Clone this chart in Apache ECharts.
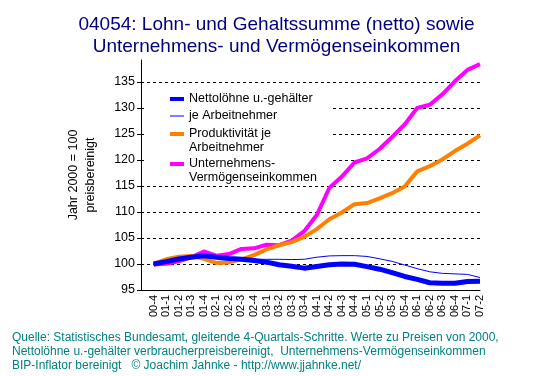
<!DOCTYPE html>
<html lang="de">
<head>
<meta charset="utf-8">
<title>04054</title>
<script src="https://cdn.jsdelivr.net/npm/echarts@6/dist/echarts.min.js"></script>
<style>
  html, body { margin: 0; padding: 0; background: #fff; }
  #chart { width: 553px; height: 376px; }
</style>
</head>
<body>
<div id="chart"></div>
<script>
// Quartale 00-4 .. 07-2
var quarters = ['00-4', '01-1', '01-2', '01-3', '01-4', '02-1', '02-2', '02-3', '02-4',
    '03-1', '03-2', '03-3', '03-4', '04-1', '04-2', '04-3', '04-4', '05-1', '05-2',
    '05-3', '05-4', '06-1', '06-2', '06-3', '06-4', '07-1', '07-2'];

var nettoSumme = [100, 100.45, 100.95, 101.3, 101.6, 101.3, 101.05, 100.9, 100.65, 100.35,
    99.85, 99.55, 99.2, 99.5, 99.85, 100.0, 99.95, 99.5, 99.0, 98.35, 97.6, 97.05, 96.4,
    96.3, 96.3, 96.65, 96.7];
var nettoJeAN = [100, 100.5, 100.95, 101.3, 101.6, 101.3, 101.1, 101.0, 100.9, 100.9,
    100.9, 100.85, 100.9, 101.3, 101.55, 101.6, 101.6, 101.45, 101.0, 100.5, 99.8, 99.1,
    98.5, 98.2, 98.1, 98.0, 97.4];
var produktivitaet = [100, 100.9, 101.4, 101.55, 101.0, 100.2, 100.3, 100.9, 101.7, 102.8,
    103.6, 104.2, 105.2, 106.7, 108.6, 109.9, 111.5, 111.7, 112.6, 113.6, 114.9, 117.8,
    118.8, 120.1, 121.7, 123.1, 124.7];
var unternehmen = [99.9, 100.05, 100.5, 101.3, 102.4, 101.6, 101.9, 102.9, 103.0, 103.7,
    103.6, 104.5, 106.3, 109.4, 114.6, 116.8, 119.5, 120.3, 122.1, 124.4, 126.8, 130.0,
    130.6, 132.6, 135.1, 137.3, 138.4];

var yTicks = [95, 100, 105, 110, 115, 120, 125, 130, 135];

var font = '"Liberation Sans", Arial, sans-serif';

// leere Kategorie vorn, damit die erste Linie etwas vom Achsenkreuz abrückt
var xData = [''].concat(quarters);
function pad(arr) { return ['-'].concat(arr); }

var NAME_SUM = 'Nettolöhne u.-gehälter';
var NAME_AN = 'je Arbeitnehmer';
var NAME_PROD = 'Produktivität je\nArbeitnehmer';
var NAME_UV = 'Unternehmens-\nVermögenseinkommen';

var thickIcon = 'path://M0,0H14V4H0Z';
var thinIcon = 'path://M0,0H14V1H0Z';

// ein Legendenblock pro Eintrag, damit das Symbol an der ersten Textzeile sitzt
function legendEntry(name, icon, top, twoLines) {
    return {
        orient: 'vertical',
        left: 170,
        top: top,
        padding: 0,
        itemWidth: 14,
        itemHeight: 5,
        itemStyle: { borderWidth: 0 },
        textStyle: { fontFamily: font, fontSize: 12.5, color: '#000', lineHeight: 14 },
        formatter: function (n) { return twoLines ? '\n' + n : n; },
        data: [{ name: name, icon: icon }]
    };
}

var chart = echarts.init(document.getElementById('chart'), null, { renderer: 'canvas' });

chart.setOption({
    animation: false,
    backgroundColor: '#ffffff',
    title: [{
        text: '04054: Lohn- und Gehaltssumme (netto) sowie\nUnternehmens- und Vermögenseinkommen',
        left: 'center',
        top: 14,
        padding: [0, 0, 0, 6],
        textStyle: { color: '#000080', fontFamily: font, fontSize: 19, fontWeight: 'normal', lineHeight: 22 }
    }, {
        text: 'Quelle: Statistisches Bundesamt, gleitende 4-Quartals-Schritte. Werte zu Preisen von 2000,\n' +
              'Nettolöhne u.-gehälter verbraucherpreisbereinigt,  Unternehmens-Vermögenseinkommen\n' +
              'BIP-Inflator bereinigt   © Joachim Jahnke - http://www.jjahnke.net/',
        left: 12,
        top: 331,
        padding: 0,
        textStyle: { color: '#008080', fontFamily: font, fontSize: 12, fontWeight: 'normal', lineHeight: 14 }
    }],
    graphic: [{
        type: 'rect',
        z: 1,
        shape: { x: 147, y: 88, width: 185, height: 96 },
        style: { fill: '#ffffff' }
    }],
    legend: [
        legendEntry(NAME_SUM, thickIcon, 92, false),
        legendEntry(NAME_AN, thinIcon, 109, false),
        legendEntry(NAME_PROD, thickIcon, 113, true),
        legendEntry(NAME_UV, thickIcon, 143, true)
    ],
    grid: { left: 141, right: 73, top: 60, bottom: 86, containLabel: false },
    xAxis: {
        type: 'category',
        data: xData,
        boundaryGap: false,
        axisLine: { lineStyle: { color: '#000', width: 1 } },
        axisTick: { show: false },
        axisLabel: { interval: 0, rotate: 90, margin: 5, color: '#000', fontFamily: font, fontSize: 11 },
        splitLine: { show: false }
    },
    yAxis: {
        type: 'value',
        min: 95,
        max: 139.2,
        interval: 5,
        name: 'Jahr 2000 = 100\npreisbereinigt',
        nameLocation: 'middle',
        nameGap: 42,
        nameTextStyle: { color: '#000', fontFamily: font, fontSize: 12.5, lineHeight: 17, align: 'center' },
        axisLine: { show: true, lineStyle: { color: '#000', width: 1 } },
        axisTick: { show: true, length: 4, lineStyle: { color: '#000' } },
        axisLabel: {
            margin: 6, color: '#000', fontFamily: font, fontSize: 12.5,
            showMaxLabel: false,
            formatter: function (v) { return yTicks.indexOf(v) >= 0 ? String(v) : ''; }
        },
        splitLine: {
            show: true, showMinLine: false, showMaxLine: false,
            lineStyle: { color: '#000', type: [3, 3], width: 1 }
        }
    },
    series: [{
        name: NAME_UV,
        type: 'line',
        data: pad(unternehmen),
        symbol: 'none',
        z: 2,
        lineStyle: { color: '#ff00ff', width: 4 },
        itemStyle: { color: '#ff00ff' }
    }, {
        name: NAME_PROD,
        type: 'line',
        data: pad(produktivitaet),
        symbol: 'none',
        z: 3,
        lineStyle: { color: '#ff8000', width: 4 },
        itemStyle: { color: '#ff8000' }
    }, {
        name: NAME_SUM,
        type: 'line',
        data: pad(nettoSumme),
        symbol: 'none',
        z: 4,
        lineStyle: { color: '#0000ff', width: 5 },
        itemStyle: { color: '#0000ff' }
    }, {
        name: NAME_AN,
        type: 'line',
        data: pad(nettoJeAN),
        symbol: 'none',
        z: 5,
        lineStyle: { color: '#0000ff', width: 1 },
        itemStyle: { color: '#0000ff' }
    }]
});
</script>
</body>
</html>
